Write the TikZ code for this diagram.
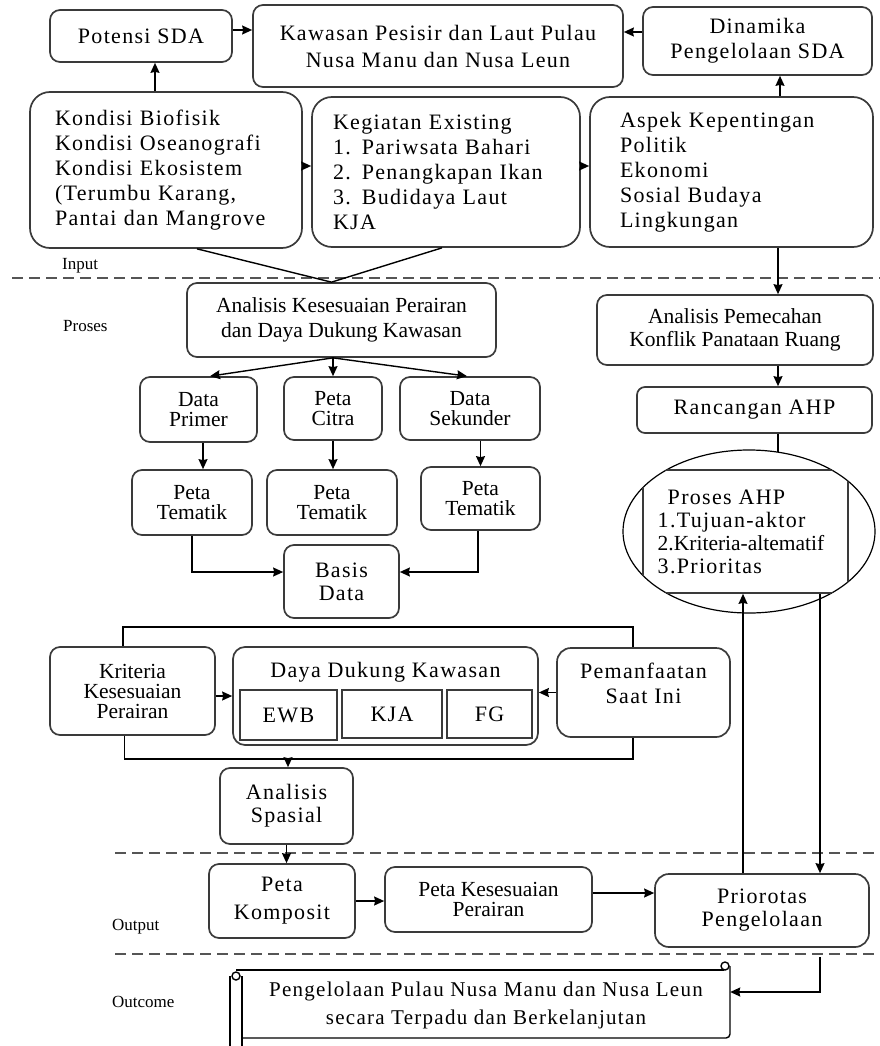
\documentclass[tikz,border=0pt]{standalone}
\usepackage{fontspec}
\setmainfont{Liberation Serif}
\newfontfamily\widefont{Liberation Serif}[LetterSpace=6]
\usepackage{tikz}
\usetikzlibrary{positioning, arrows.meta, shapes.geometric}
\definecolor{bLine}{HTML}{3A3A3A}
\definecolor{dLine}{HTML}{555555}
\newcommand{\bigtxt}{\fontsize{22}{25}\widefont}
\newcommand{\smalltxt}{\fontsize{21.5}{20}\rmfamily}
\newcommand{\tagtxt}{\fontsize{17}{19}\rmfamily}

\begin{document}
\begin{tikzpicture}[x=1pt, y=-1pt, >={Stealth[length=10pt,width=9pt,inset=1pt]},
  box/.style={draw=bLine, line width=1.7pt, rounded corners=10pt, align=center, inner sep=2pt},
  bigbox/.style={box, font=\bigtxt},
  smallbox/.style={box, font=\smalltxt},
  cell/.style={draw=bLine, line width=1.7pt, font=\bigtxt, inner sep=0pt},
  tag/.style={font=\tagtxt, anchor=west, inner sep=0pt},
  sep/.style={dLine, line width=2pt, dash pattern=on 11pt off 6pt},
  link/.style={black, line width=1.4pt},
  arr/.style={link, ->}]
  \useasboundingbox (0,0) rectangle (880,1046);

  % input row
  \node[bigbox, minimum width=182pt, minimum height=52pt] (pot) at (141,36) {Potensi SDA};
  \node[bigbox, minimum width=370pt, minimum height=82pt, font=\fontsize{22}{27}\widefont] (kaw) at (438,46)
    {Kawasan Pesisir dan Laut Pulau\\Nusa Manu dan Nusa Leun};
  \node[bigbox, minimum width=229pt, minimum height=68pt] (din) at (757.5,41) {Dinamika\\Pengelolaan SDA};
  \node[bigbox, rounded corners=20pt, minimum height=156pt, text width=222pt, inner xsep=25pt, align=left] (kon) at (166,170)
    {Kondisi Biofisik\\Kondisi Oseanografi\\Kondisi Ekosistem\\(Terumbu Karang,\\Pantai dan Mangrove};
  \node[bigbox, rounded corners=20pt, minimum height=150pt, text width=226pt, inner xsep=21pt, align=left] (keg) at (446,172)
    {Kegiatan Existing\\1. Pariwsata Bahari\\2. Penangkapan Ikan\\3. Budidaya Laut\\KJA};
  \node[bigbox, rounded corners=20pt, minimum height=150pt, text width=223pt, inner xsep=30pt, align=left] (asp) at (731.5,172)
    {Aspek Kepentingan\\Politik\\Ekonomi\\Sosial Budaya\\Lingkungan};

  \draw[arr] ([yshift=6pt]pot.east) -- ([yshift=6pt]pot.east -| kaw.west);
  \draw[arr] ([yshift=9pt]din.west) -- ([yshift=9pt]din.west -| kaw.east);
  \draw[arr] ([xshift=-11pt]kon.north) -- ([xshift=-11pt]kon.north |- pot.south);
  \draw[arr] ([xshift=48.5pt]asp.north) -- ([xshift=48.5pt]asp.north |- din.south);
  \draw[arr] ([yshift=4pt]kon.east) -- ([yshift=4pt]kon.east -| keg.west);
  \draw[arr] ([yshift=6pt]keg.east) -- ([yshift=6pt]keg.east -| asp.west);

  % stage labels and separators
  \node[tag] (lin) at (62,266) {Input};
  \node[tag] (lpr) at (63,326) {Proses};
  \node[tag] (lou) at (112,927) {Output};
  \node[tag] (loc) at (112,1002) {Outcome};
  \draw[sep] (12,278) -- (880,278);
  \draw[sep] (115,853) -- (880,853);
  \draw[sep] (115,954) -- (880,954);

  % process, left branch
  \node[smallbox, minimum width=309pt, minimum height=74pt, font=\fontsize{21.5}{25}\rmfamily] (ana) at (341.5,320)
    {Analisis Kesesuaian Perairan\\dan Daya Dukung Kawasan};
  \coordinate (apex) at ([xshift=-10pt]ana.north);
  \draw[link] ([xshift=31pt]kon.south) -- (apex) -- ([xshift=-4pt]keg.south);

  \node[smallbox, minimum width=117pt, minimum height=65pt] (dp) at (198.5,409.5) {Data\\Primer};
  \node[smallbox, minimum width=98pt, minimum height=63pt] (pc) at (333,408.5) {Peta\\Citra};
  \node[smallbox, minimum width=140pt, minimum height=63pt] (ds) at (470,408.5) {Data\\Sekunder};
  \node[smallbox, minimum width=120pt, minimum height=65pt] (pt1) at (192,502.5) {Peta\\Tematik};
  \node[smallbox, minimum width=130pt, minimum height=65pt] (pt2) at (332,502.5) {Peta\\Tematik};
  \node[smallbox, minimum width=119pt, minimum height=63pt] (pt3) at (480.5,498.5) {Peta\\Tematik};
  \node[bigbox, minimum width=115pt, minimum height=73pt, font=\fontsize{22}{23}\widefont] (bd) at (341.5,581.5) {Basis\\Data};

  \coordinate (fan) at (ana.south -| pc.north);
  \draw[arr] (fan) -- ([xshift=11.5pt]dp.north);
  \draw[arr] (fan) -- (pc.north);
  \draw[arr] (fan) -- ([xshift=-3pt]ds.north);
  \draw[arr] ([xshift=4.5pt]dp.south) -- ([xshift=4.5pt]dp.south |- pt1.north);
  \draw[arr] (pc.south) -- (pc.south |- pt2.north);
  \draw[arr] (pt3.north |- ds.south) -- (pt3.north);
  \draw[arr] (pt1.south) |- ([yshift=9.5pt]bd.west);
  \draw[arr] ([xshift=-2.5pt]pt3.south) |- ([yshift=9.5pt]bd.east);

  % carrying capacity row
  \node[smallbox, minimum width=165pt, minimum height=88pt] (kri) at (132.5,691) {Kriteria\\Kesesuaian\\Perairan};
  \node[box, rounded corners=12pt, minimum width=305pt, minimum height=98pt] (ddk) at (385.5,696) {};
  \node[font=\bigtxt, inner sep=0pt] (ddkt) at (385.5,672) {Daya Dukung Kawasan};
  \node[cell, minimum width=97pt, minimum height=50pt] (ewb) at (288.5,715) {EWB};
  \node[cell, minimum width=100pt, minimum height=48pt] (kja) at (392,714) {KJA};
  \node[cell, minimum width=85pt, minimum height=48pt] (fg) at (489.5,714) {FG};
  \node[bigbox, rounded corners=14pt, minimum width=173pt, minimum height=89pt, text depth=18pt] (pem) at (643.5,692.5)
    {Pemanfaatan\\Saat Ini};

  \draw[link] ([xshift=-9.5pt]kri.north) -- ++(0,-19) -| ([xshift=-10.5pt]pem.north);
  \draw[arr] (kri.east |- ddk.west) -- (ddk.west);
  \draw[arr] (pem.west) -- (pem.west -| ddk.east);
  \coordinate (sj) at (288,758);
  \draw[link] ([xshift=-8pt]kri.south) -- ++(0,23) -| ([xshift=-10.5pt]pem.south);

  \node[bigbox, minimum width=133pt, minimum height=76pt, font=\fontsize{22}{23}\widefont] (spa) at (286.5,806) {Analisis\\Spasial};
  \draw[arr] (sj) -- (sj |- spa.north);

  % process, right branch
  \node[smallbox, minimum width=276pt, minimum height=70pt, font=\fontsize{21.5}{23}\rmfamily] (apm) at (735,330)
    {Analisis Pemecahan\\Konflik Panataan Ruang};
  \node[bigbox, rounded corners=8pt, minimum width=235pt, minimum height=46pt] (rah) at (754.5,410) {Rancangan AHP};
  \node[draw=black, line width=1.2pt, ellipse, minimum width=252pt, minimum height=163pt] (ahpe) at (749,531.5) {};
  \begin{scope}
    \clip (ahpe.center) ellipse [x radius=126pt, y radius=81.5pt];
    \node[draw=bLine, line width=1.7pt, minimum width=205pt, minimum height=123pt] (ahpin) at (745.5,531.5) {};
  \end{scope}
  \node[align=left, inner sep=0pt, font=\fontsize{22}{23}\widefont] (ahp) at (741,531.5)
    {\hspace*{10pt}Proses AHP\\1.Tujuan-aktor\\{\smalltxt 2.Kriteria-altematif}\\3.Prioritas};

  \draw[arr] ([xshift=46.5pt]asp.south) -- ([xshift=46.5pt]asp.south |- apm.north);
  \draw[arr] ([xshift=43pt]apm.south) -- ([xshift=43pt]apm.south |- rah.north);
  \draw[link] (rah.south -| ahpe.70) -- (ahpe.70);

  % output row
  \node[bigbox, minimum width=146pt, minimum height=74pt, font=\fontsize{22}{28}\widefont] (kom) at (282,901) {Peta\\Komposit};
  \node[smallbox, minimum width=207pt, minimum height=65pt] (pks) at (488.5,899.5) {Peta Kesesuaian\\Perairan};
  \node[bigbox, rounded corners=14pt, minimum width=214pt, minimum height=73pt, font=\fontsize{22}{23}\widefont] (pri) at (762,910.5)
    {Priorotas\\Pengelolaan};

  \draw[arr] (spa.south) -- (spa.south |- kom.north);
  \draw[arr] (kom.east) -- (kom.east -| pks.west);
  \draw[arr] ([yshift=6.5pt]pks.east) -- ([yshift=6.5pt]pks.east -| pri.west);
  \draw[arr] ([xshift=-19pt]pri.north) -- ([xshift=-19pt]pri.north |- ahpin.south);
  \draw[arr] ([xshift=58pt]pri.north |- ahpin.south) -- ([xshift=58pt]pri.north);

  % outcome scroll
  \node[font=\fontsize{21}{28}\widefont, inner sep=0pt, minimum width=488pt, minimum height=66pt, align=center] (scr) at (486,1005)
    {Pengelolaan Pulau Nusa Manu dan Nusa Leun\\secara Terpadu dan Berkelanjutan};
  \draw[link] (236,970) -- (724,970);
  \draw[link, rounded corners=4pt] (730,966) -- (730,1038) -- (242,1038);
  \draw[link] (230,976) -- (230,1046);
  \draw[link] (242,976) -- (242,1046);
  \draw[link] (236,976) circle (4pt);
  \draw[link] (725,966) circle (4pt);
  \draw[arr] ([xshift=58pt]pri.south) ++(0,9) |- ([yshift=13pt]scr.east);
\end{tikzpicture}
\end{document}
